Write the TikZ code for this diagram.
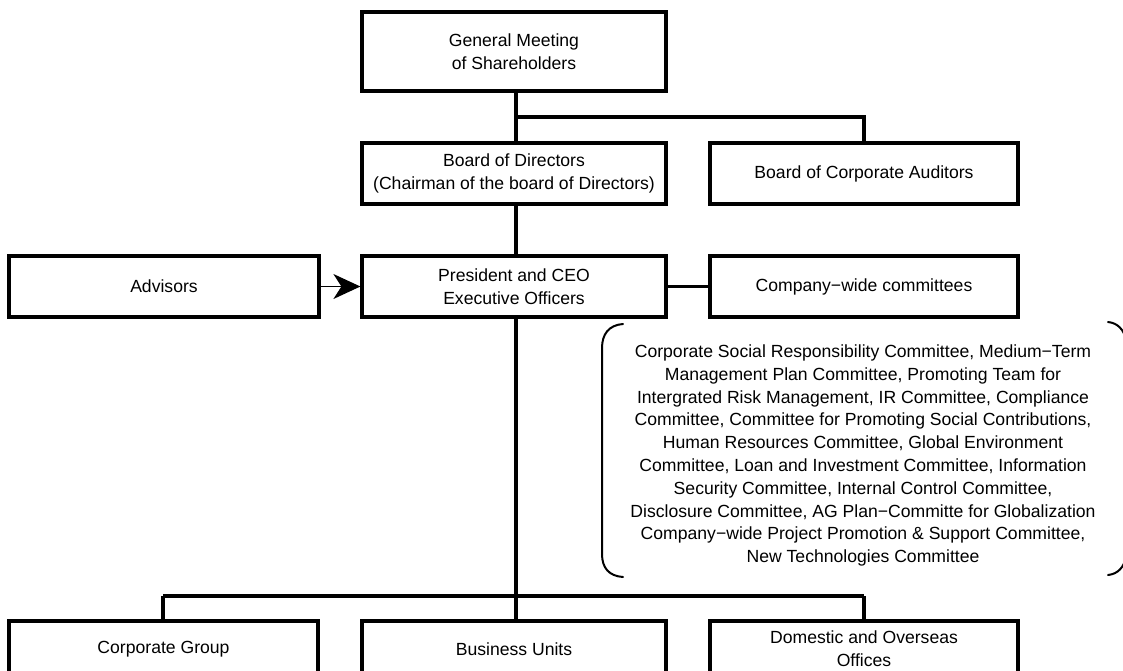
\documentclass[tikz,border=0pt]{standalone}
\usepackage{fontspec}
\setmainfont{Liberation Sans}
\usetikzlibrary{arrows.meta}
\begin{document}
\begin{tikzpicture}[x=1pt,y=-1pt,
  orgbox/.style={draw=black, line width=3.2pt, fill=white, inner sep=0pt, align=center,
    font=\fontsize{17.6}{23}\selectfont},
  midbox/.style={orgbox, minimum width=304pt, minimum height=61pt},
  sidebox/.style={orgbox, minimum width=308pt, minimum height=61pt},
  lowbox/.style={orgbox, minimum height=56pt},
  link/.style={line width=3.2pt},
  bracket/.style={line width=2pt, line cap=round},
  cmtext/.style={align=center, inner sep=0pt, font=\fontsize{17.6}{22.8}\selectfont},
]
\useasboundingbox (0,0) rectangle (1123,670);
\clip (0,0) rectangle (1123,670);

% trunk / branch x positions
\coordinate (trunk) at (516,0);
\coordinate (rbr) at (864,0);
\coordinate (lbr) at (163,0);

% boxes
\node[orgbox, minimum width=304pt, minimum height=79pt] (gm) at (514,51.5) {General Meeting\\of Shareholders};
\node[midbox] (bod) at (514,173.5) {Board of Directors\\(Chairman of the board of Directors)};
\node[sidebox] (bca) at (864,173.5) {Board of Corporate Auditors};
\node[midbox] (pres) at (514,286.5) {President and CEO\\Executive Officers};
\node[orgbox, minimum width=310pt, minimum height=61pt] (adv) at (164,286.5) {Advisors};
\node[sidebox] (cwc) at (864,286.5) {Company−wide committees};

\node[lowbox, minimum width=309pt] (cg) at (163.5,649) {Corporate Group};
\node[lowbox, minimum width=304pt] (bu) at (514,649) {Business Units};
\node[lowbox, minimum width=308pt] (dom) at (864,649) {Domestic and Overseas\\Offices};

% committee list
\node[cmtext] (cmt) at (863,455.5) {Corporate Social Responsibility Committee, Medium−Term\\
Management Plan Committee, Promoting Team for\\
Intergrated Risk Management, IR Committee, Compliance\\
Committee, Committee for Promoting Social Contributions,\\
Human Resources Committee, Global Environment\\
Committee, Loan and Investment Committee, Information\\
Security Committee, Internal Control Committee,\\
Disclosure Committee, AG Plan−Committe for Globalization\\
Company−wide Project Promotion \& Support Committee,\\
New Technologies Committee};

% brackets
\draw[bracket] (623,324) .. controls (609,325) and (602,334) .. (602,348) -- (602,554) .. controls (602,568) and (609,576) .. (623,577);
\draw[bracket] (1108,322) .. controls (1118,323) and (1124,330) .. (1126,340) -- (1126,557) .. controls (1124,567) and (1118,574) .. (1108,575);

% connectors
\coordinate (topbr) at (516,117);
\coordinate (lowbr) at (516,596);
\draw[link] (gm.south -| trunk) -- (bod.north -| trunk);
\draw[link] (topbr) -| (bca.north -| rbr);
\draw[link] (bod.south -| trunk) -- (pres.north -| trunk);
\draw[link] (pres.east) -- (cwc.west);
\draw[line width=1.2pt, -{Stealth[length=27pt,width=25pt,inset=8pt]}] (adv.east) -- (pres.west);
\draw[link] (pres.south -| trunk) -- (bu.north -| trunk);
\draw[link] (lowbr -| lbr) -- (lowbr -| rbr);
\draw[link] (lowbr -| lbr) -- (cg.north -| lbr);
\draw[link] (lowbr -| rbr) -- (dom.north -| rbr);
\end{tikzpicture}
\end{document}
